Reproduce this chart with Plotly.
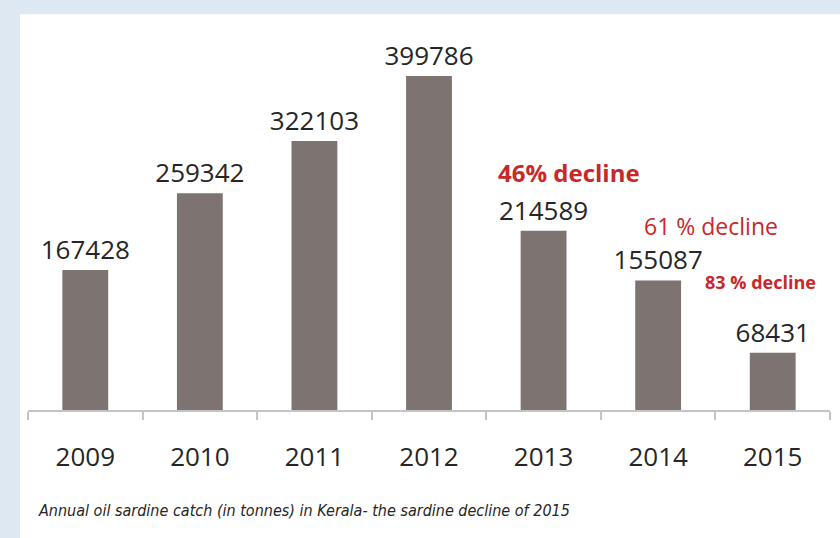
import plotly.graph_objects as go

years = ["2009", "2010", "2011", "2012", "2013", "2014", "2015"]
catch_tonnes = [167428, 259342, 322103, 399786, 214589, 155087, 68431]
decline_labels = ["46% decline", "61 % decline", "83 % decline"]
caption = "Annual oil sardine catch (in tonnes) in Kerala- the sardine decline of 2015"

BAR = "#7d7371"
DARK = "#262626"
RED = "#c8282a"

fig = go.Figure()
fig.add_trace(go.Bar(
    x=years, y=catch_tonnes,
    marker=dict(color=BAR, line=dict(width=0)),
    width=0.4,
    text=[str(v) for v in catch_tonnes],
    textposition="outside",
    constraintext="none",
    textfont=dict(family="Open Sans", size=26, color=DARK),
    cliponaxis=False,
))

fig.update_layout(
    width=840, height=538,
    margin=dict(l=28, r=10, t=20, b=128),
    paper_bgcolor="#dde8f3",
    plot_bgcolor="rgba(0,0,0,0)",
    showlegend=False,
    xaxis=dict(
        type="category",
        showline=True, linecolor="#c4c4c4", linewidth=1.5,
        ticks="outside", tickson="boundaries", ticklen=8, tickcolor="#c4c4c4", tickwidth=1.5,
        tickfont=dict(family="Open Sans", size=26, color=DARK),
        ticklabelstandoff=23,
        showgrid=False, zeroline=False,
    ),
    yaxis=dict(range=[0, 466800], visible=False, showgrid=False, zeroline=False),
    shapes=[dict(type="rect", xref="paper", yref="paper",
                 x0=-0.01, x1=1.03, y0=-0.4, y1=1.015,
                 fillcolor="white", line=dict(width=0), layer="below")],
)

fig.add_annotation(x=4.226, y=284870, xref="x", yref="y", text="<b>" + decline_labels[0] + "</b>",
                   showarrow=False, borderpad=0, font=dict(family="Open Sans", size=24, color=RED))
fig.add_annotation(x=5.457, y=220500, xref="x", yref="y", text=decline_labels[1],
                   showarrow=False, borderpad=0, font=dict(family="Open Sans", size=23, color=RED))
fig.add_annotation(x=5.889, y=153200, xref="x", yref="y", text="<b>" + decline_labels[2] + "</b>",
                   showarrow=False, borderpad=0, font=dict(family="Open Sans", size=18, color=RED))
fig.add_annotation(x=0.01, y=-0.258, xref="paper", yref="paper", xanchor="left", yanchor="middle",
                   text="<i>" + caption + "</i>", showarrow=False,
                   font=dict(family="DejaVu Sans Condensed, Liberation Sans", size=16, color=DARK))

fig.write_html("out.html")
